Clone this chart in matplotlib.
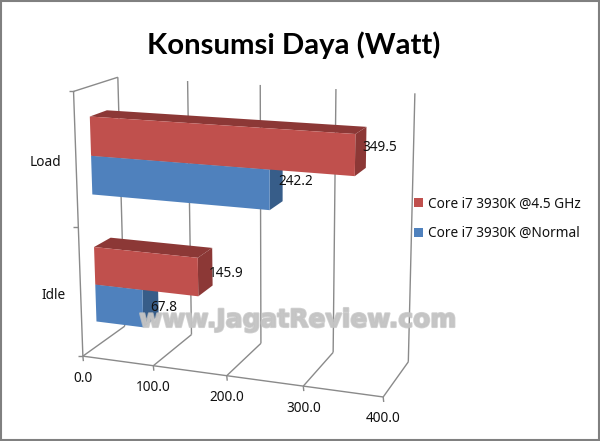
import matplotlib
matplotlib.use('Agg')
import matplotlib.pyplot as plt
import matplotlib.patheffects as pe
import numpy as np
from matplotlib.patches import Polygon, Patch, Rectangle

# data
categories = ['Idle', 'Load']
oc_values = [145.9, 349.5]
normal_values = [67.8, 242.2]
oc_label = 'Core i7 3930K @4.5 GHz'
normal_label = 'Core i7 3930K @Normal'
value_ticks = [0, 100, 200, 300, 400]
title = 'Konsumsi Daya (Watt)'
watermark = 'www.JagatReview.com'

RED = '#C0504D'
RED_DARK = '#8C3836'
BLUE = '#4F81BD'
BLUE_DARK = '#375D89'
GRID = '#8a8a8a'
TEXT_FONT = ['Noto Sans', 'DejaVu Sans']
FS = 9.8

# camera fit: (value, height 0-1, depth 0-1) -> pixel, measured on the wall and floor corners
calib = [
    (0, 1, 0, 73, 92), (0, 0, 0, 83, 356),
    (0, 1, 1, 118, 77), (0, 0, 1, 125, 325),
    (100, 0, 0, 153, 366), (200, 0, 0, 227, 376), (300, 0, 0, 303, 386), (400, 0, 0, 384, 396),
    (100, 1, 1, 188, 81), (200, 1, 1, 260, 85), (300, 1, 1, 337, 89), (400, 1, 1, 414, 93),
    (100, 0, 1, 191, 335), (200, 0, 1, 261, 344), (300, 0, 1, 333, 353), (400, 0, 1, 408, 362),
]
rows = []
for v, h, d, px, py in calib:
    w = [v / 400, h, d, 1]
    rows.append(w + [0, 0, 0, 0] + [-px * c for c in w])
    rows.append([0, 0, 0, 0] + w + [-py * c for c in w])
cam = np.linalg.svd(np.array(rows, dtype=float))[2][-1].reshape(3, 4)


def proj(v, h, d):
    p = cam @ np.array([v / 400, h, d, 1.0])
    return p[0] / p[2], p[1] / p[2]


fig = plt.figure(figsize=(6, 4.41), dpi=100)
ax = fig.add_axes([0, 0, 1, 1])
ax.set_xlim(0, 600)
ax.set_ylim(441, 0)
ax.axis('off')

# grey picture frame
ax.add_patch(Rectangle((0.5, 0.5), 598.5, 439.5, fc='none', ec='#808080', lw=1.5, zorder=6))


def seg(a, b, lw=1.0):
    ax.plot(*zip(a, b), color=GRID, lw=lw, solid_capstyle='butt', zorder=1)


# walls and floor
seg(proj(0, 1, 0), proj(0, 0, 0))
seg(proj(0, 1, 0), proj(0, 1, 1))
seg(proj(0, 0, 0), proj(400, 0, 0))
for t in value_ticks:
    seg(proj(t, 0, 0), proj(t, 0, 1))
    seg(proj(t, 0, 1), proj(t, 1, 1))
    x, y = proj(t, 0, 0)
    seg((x, y), (x + 0.5, y + 5))
    ax.text(x, y + 22, f'{t:.1f}', ha='center', va='center', fontsize=FS,
            family=TEXT_FONT, color='#111111')
for h in [0, 0.5, 1]:
    x, y = proj(0, h, 0)
    seg((x, y), (x - 5, y))

# bars
thick = 0.147
depth_front = 0.33
depth_back = 0.72


def bar3d(val, low, face, dark):
    high = low + thick
    d0, d1 = depth_front, depth_back
    ax.add_patch(Polygon([proj(val, low, d0), proj(val, high, d0), proj(val, high, d1), proj(val, low, d1)],
                         fc=dark, ec='none', zorder=2))
    ax.add_patch(Polygon([proj(0, high, d0), proj(val, high, d0), proj(val, high, d1), proj(0, high, d1)],
                         fc=dark, ec='none', zorder=2))
    ax.add_patch(Polygon([proj(0, low, d0), proj(val, low, d0), proj(val, high, d0), proj(0, high, d0)],
                         fc=face, ec='none', zorder=2))


for i, cat in enumerate(categories):
    center = (i + 0.5) / 2 + (-0.005 if i == 0 else -0.008)
    bar3d(normal_values[i], center - thick, BLUE, BLUE_DARK)
    bar3d(oc_values[i], center, RED, RED_DARK)
    # idle labels sit a bit lower, the short blue one is pushed back onto its bar
    nudges = [(-8, 10) if i == 0 else (-4, 0), (-4, 7) if i == 0 else (-4, 0)]
    for (val, low), (dx, dy) in zip([(normal_values[i], center - thick), (oc_values[i], center)], nudges):
        x, y = proj(val, low + thick / 2, depth_back)
        ax.text(x + dx, y + dy, f'{val:.1f}', ha='left', va='center', fontsize=FS,
                family=TEXT_FONT, color='#111111', zorder=4)
    x, y = proj(0, (i + 0.5) / 2, 0)
    ax.text(x - 15, y + 3, cat, ha='right', va='center', fontsize=FS,
            family=TEXT_FONT, color='#111111')

ax.text(294, 45, title, ha='center', va='center', fontsize=21.2, fontweight='bold',
        family=['Lato', 'DejaVu Sans'], color='black')

# watermark sits over everything
ax.text(298, 320, watermark, ha='center', va='center', fontsize=18, fontweight='bold',
        family=['DejaVu Sans'], color='#c4c4c4', alpha=0.8, zorder=5,
        path_effects=[pe.withStroke(linewidth=1.5, foreground='#c4c4c4', alpha=0.8)])

handles = [Patch(fc=RED, ec='none', label=oc_label), Patch(fc=BLUE, ec='none', label=normal_label)]
ax.legend(handles=handles, loc='center left', bbox_to_anchor=(414 / 600, 1 - 219 / 441), frameon=False,
          prop={'family': TEXT_FONT, 'size': FS}, handlelength=0.65, handleheight=0.65,
          handletextpad=0.35, labelspacing=1.08, borderaxespad=0, borderpad=0, labelcolor='#111111')

fig.savefig('out.png', dpi=100)
